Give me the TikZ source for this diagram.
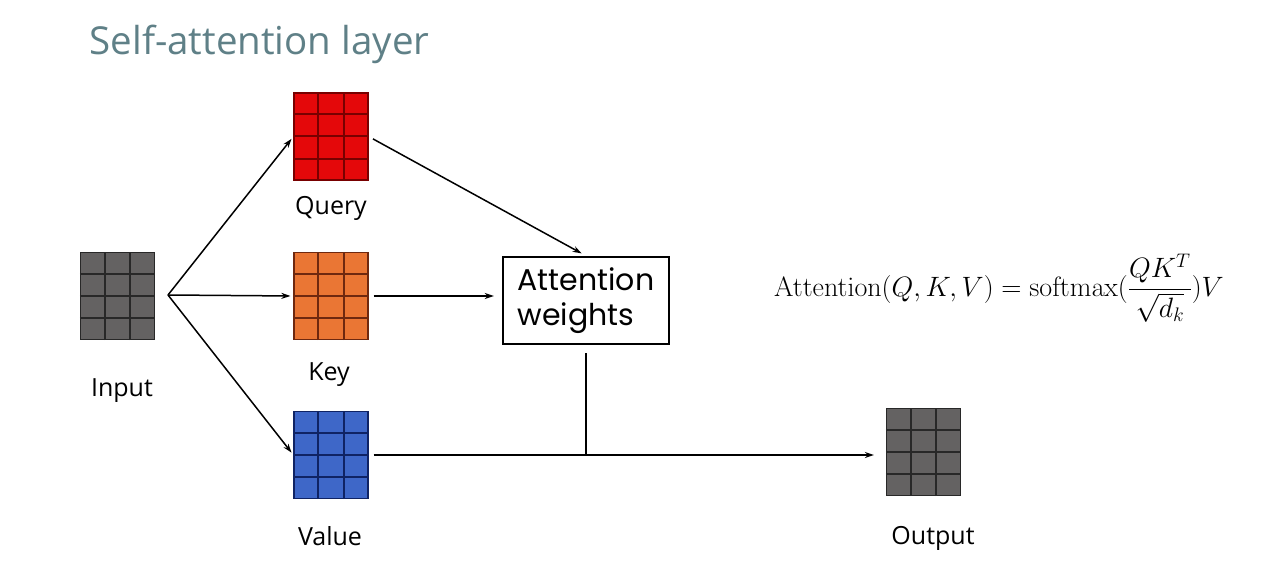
\RequirePackage{fix-cm}
\documentclass[tikz,border=0pt]{standalone}
\usepackage{amssymb, amsfonts, amsmath}
\usepackage[no-math]{fontspec}
\setmainfont{Open Sans}
\newfontfamily\boxfont{Poppins}
\usepackage{tikz}
\usetikzlibrary{calc}
\usetikzlibrary{arrows.meta}

\definecolor{qfill}{RGB}{228,8,10}
\definecolor{qline}{RGB}{120,0,0}
\definecolor{kfill}{RGB}{234,118,52}
\definecolor{kline}{RGB}{110,40,15}
\definecolor{vfill}{RGB}{62,103,200}
\definecolor{vline}{RGB}{15,35,100}
\definecolor{gfill}{RGB}{100,98,98}
\definecolor{gline}{RGB}{40,40,40}
\definecolor{titlecol}{RGB}{95,128,135}

\tikzset{
  mat/.style 2 args={fill=#1, draw=#2, line width=1.2pt, minimum width=74pt, minimum height=87pt, inner sep=0pt},
  lbl/.style={anchor=base, font=\fontsize{25}{30}\selectfont},
  arr/.style={-{Stealth[length=9pt,width=6pt]}, line width=1.5pt}
}

% 3 x 4 cells inside a matrix node
\newcommand{\cellgrid}[2]{%
  \foreach \i in {1,2} \draw[#2, line width=2pt] ($(#1.south west)!\i/3!(#1.south east)$) -- ($(#1.north west)!\i/3!(#1.north east)$);
  \foreach \j in {1,2,3} \draw[#2, line width=2pt] ($(#1.south west)!\j/4!(#1.north west)$) -- ($(#1.south east)!\j/4!(#1.north east)$);
}

\begin{document}
\begin{tikzpicture}[x=1pt,y=1pt]
\useasboundingbox (0,0) rectangle (1269,579);

\node[anchor=base west, text=titlecol, font=\fontsize{38.5}{46}\selectfont] (title) at (86,524) {Self-attention layer};

\node[mat={gfill}{gline}] (input) at (117.5,283) {};
\node[mat={qfill}{qline}] (query) at (331,442.5) {};
\node[mat={kfill}{kline}] (key) at (331,283) {};
\node[mat={vfill}{vline}] (value) at (331,124) {};
\node[mat={gfill}{gline}] (output) at (923.5,127) {};
\cellgrid{input}{gline}
\cellgrid{query}{qline}
\cellgrid{key}{kline}
\cellgrid{value}{vline}
\cellgrid{output}{gline}

\node[lbl] (inputlbl) at (122,183) {Input};
\node[lbl] (querylbl) at (331,364) {Query};
\node[lbl] (keylbl) at (329,199) {Key};
\node[lbl] (valuelbl) at (330,34) {Value};
\node[lbl] (outputlbl) at (933,35) {Output};

\node[draw, line width=2.4pt, minimum width=166pt, minimum height=87pt, inner sep=0pt, align=left, font=\boxfont\fontsize{30}{35}\selectfont] (att) at (586,278.5) {Attention\\weights};

\node[font=\fontsize{28}{34}\selectfont] (formula) at (999,291) {$\displaystyle \mathrm{Attention}(Q,K,V)=\mathrm{softmax}(\frac{QK^T}{\sqrt{d_k}})V$};

\coordinate (split) at (168,284);
\draw[arr, shorten >=3pt] (split) -- (query.west);
\draw[arr, shorten >=3pt] (split) -- (key.west);
\draw[arr, shorten >=3pt] (split) -- (value.west);
\draw[arr, shorten <=5pt, shorten >=5pt] (query.east) -- (att.north);
\draw[arr, shorten <=5pt, shorten >=8pt] (key.east) -- (key.east -| att.west);

\coordinate (join) at (att.south |- value.east);
\draw[line width=1.5pt, shorten <=8pt] (att.south) -- (join);
\draw[arr, shorten <=5pt, shorten >=12pt] (value.east) -- (value.east -| output.west);
\end{tikzpicture}
\end{document}
